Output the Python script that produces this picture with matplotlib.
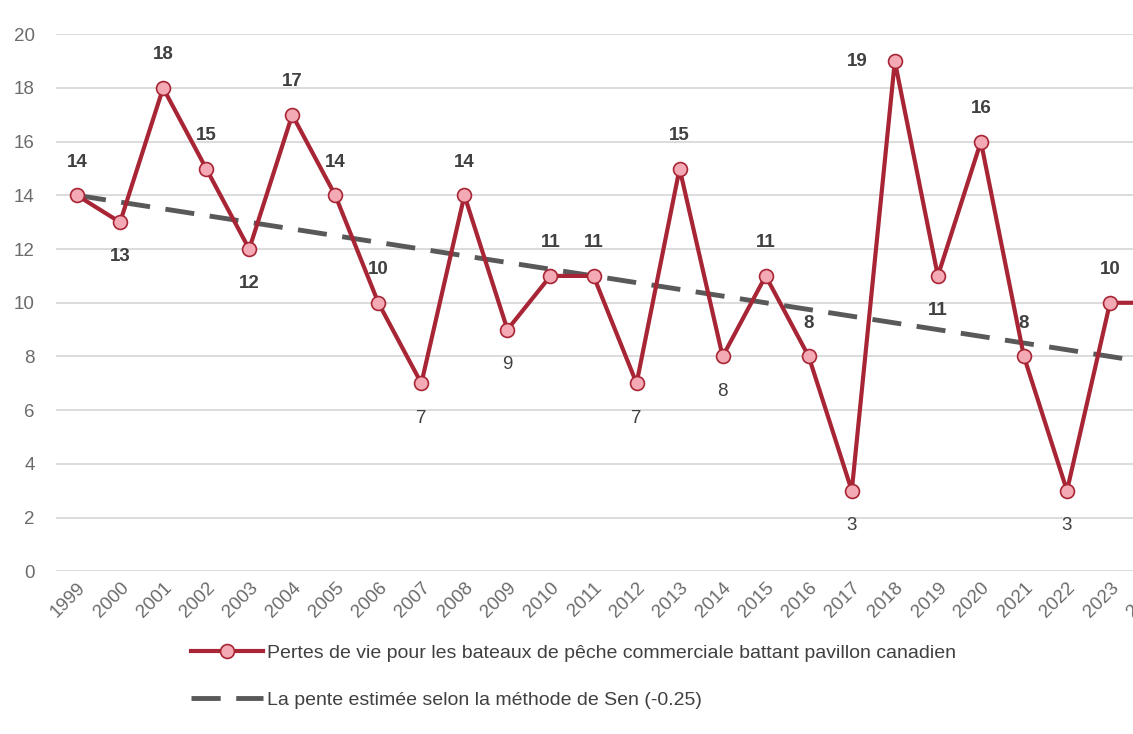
import matplotlib
matplotlib.use("Agg")
import matplotlib.pyplot as plt
from matplotlib.lines import Line2D

plt.rcParams['font.family'] = ['Liberation Sans', 'DejaVu Sans']

# data
years = list(range(1999, 2025))
deaths = [14, 13, 18, 15, 12, 17, 14, 10, 7, 14, 9, 11, 11, 7, 15, 8, 11, 8, 3, 19, 11, 16, 8, 3, 10, 10]
# where each value label sits: above / below / left / none (off the edge)
label_pos = ['a', 'b', 'a', 'a', 'b', 'a', 'a', 'a', 'b', 'a', 'b', 'a', 'a', 'b', 'a', 'b',
             'a', 'a', 'b', 'l', 'b', 'a', 'a', 'b', 'a', '']
sen_slope = -0.25
sen_start = 14
yticks = list(range(0, 21, 2))

series_label = "Pertes de vie pour les bateaux de pêche commerciale battant pavillon canadien"
trend_label = "La pente estimée selon la méthode de Sen (-0.25)"

red = '#A82535'
pink = '#F4AAB4'
gray_txt = '#6b6b6b'
dark_txt = '#404040'
dash_col = '#595959'

fig = plt.figure(figsize=(11.33, 7.34), dpi=100)
ax = fig.add_axes([0.049, 0.2217, 0.9877, 0.7316])

trend = [sen_start + sen_slope * (y - years[0]) for y in years]
ax.plot(years, trend, color=dash_col, lw=3.5, dashes=(6.0, 3.2), zorder=2)
ax.plot(years, deaths, color=red, lw=3, marker='o', ms=10, mfc=pink, mec=red, mew=1.2, zorder=3)

for yr, v, p in zip(years, deaths, label_pos):
    if p == 'a':
        off = (0, 24)
    elif p == 'b':
        off = (0, -25)
    elif p == 'l':
        off = (-27, 0)
    else:
        continue
    weight = 'bold' if (p != 'b' or v >= 10) else 'normal'
    ax.annotate(str(v), (yr, v), xytext=off, textcoords='offset points', ha='center', va='center',
                fontsize=13.5, color=dark_txt, fontweight=weight, zorder=4)

ax.set_xlim(1998.5, 2024.5)
ax.set_ylim(0, 20)
ax.set_yticks(yticks)
ax.set_xticks(years)
ax.set_xticklabels([str(y) for y in years], rotation=45, ha='right', rotation_mode='anchor')
ax.grid(axis='y', color='#d9d9d9', lw=1.3, zorder=0)
ax.set_axisbelow(True)
for s in ax.spines.values():
    s.set_visible(False)
ax.tick_params(axis='both', length=0, colors=gray_txt, labelsize=13.5)
ax.tick_params(axis='y', pad=15)
ax.tick_params(axis='x', pad=6)

handles = [
    Line2D([], [], color=red, lw=3, marker='o', ms=10, mfc=pink, mec=red, mew=1.2),
    Line2D([], [], color=dash_col, lw=3.5, dashes=(6.0, 3.2)),
]
fig.legend(handles, [series_label, trend_label], loc='upper left', bbox_to_anchor=(0.162, 0.133),
           frameon=False, fontsize=14, handlelength=3.7, handletextpad=0.2, labelspacing=1.5,
           borderaxespad=0, labelcolor=dark_txt)

fig.savefig('out.png', dpi=100)
